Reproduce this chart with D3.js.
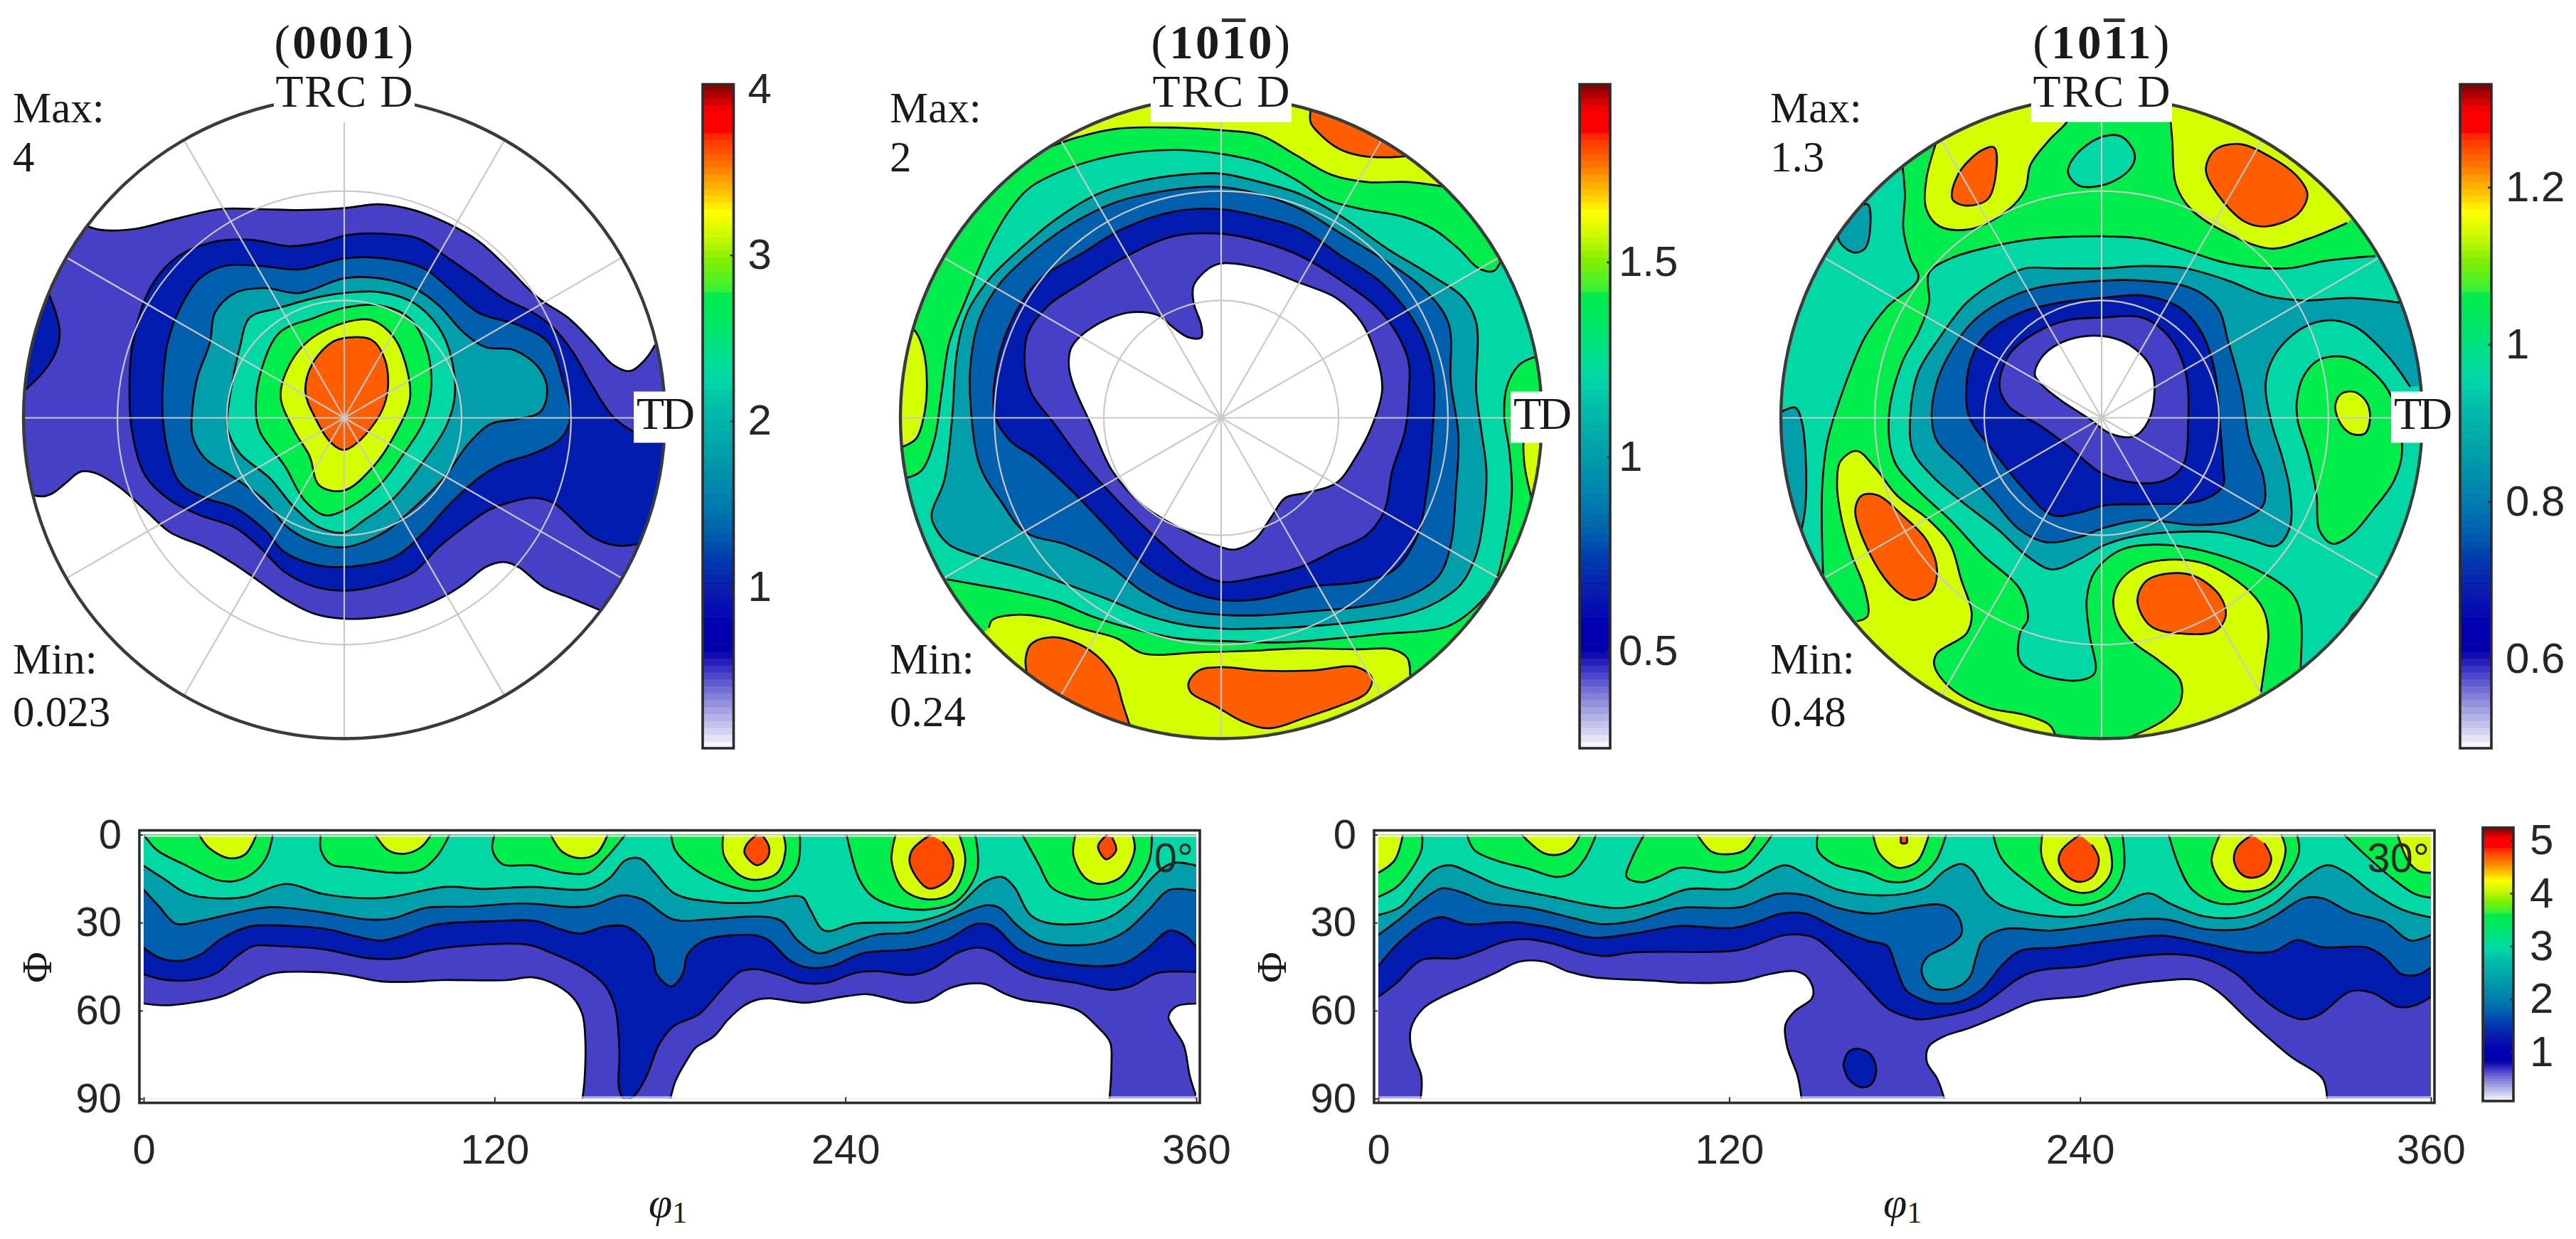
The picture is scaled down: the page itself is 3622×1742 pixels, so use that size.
<!DOCTYPE html>
<html>
<head>
<meta charset="utf-8">
<script src="https://cdn.jsdelivr.net/npm/d3@7"></script>
<style>
  body { margin: 0; background: #fff; }
  text { fill: #262626; }
  .serif { font-family: 'Liberation Serif', serif; fill: #1a1a1a; }
  .sans { font-family: 'Liberation Sans', sans-serif; }
</style>
</head>
<body>
<svg id="chart" width="3622" height="1742"></svg>
<script>
// band fill colours, lowest band is "below first contour"
const bandColors = ['#ffffff', '#4540c6', '#021cb0', '#0060ae', '#009fac', '#00d9a5', '#00ee4b', '#d4ff00', '#ff5e00'];
const odfOrange = '#ff4b00';

// colorbar ramp, position 0 = bottom, 1 = top
const rampStops = [0, 0.006, 0.027, 0.059, 0.088, 0.117, 0.138, 0.149, 0.184, 0.243, 0.291, 0.327, 0.363, 0.434, 0.52, 0.559, 0.591, 0.645, 0.6913, 0.693, 0.698, 0.734, 0.77, 0.809, 0.8305, 0.852, 0.8805, 0.902, 0.9216, 0.932, 0.959, 0.98, 1];
const rampColors = ['#ffffff', '#f4f4fc', '#d0d0f0', '#a0a0e0', '#7570d5', '#4038c8', '#1510b0', '#0000aa', '#0000b0', '#0a1eae', '#0040ae', '#0060ae', '#0078ae', '#009aaa', '#00c0a8', '#00d8a8', '#00de90', '#00e860', '#00ee48', '#44f030', '#44f030', '#80f000', '#c8f800', '#ffff00', '#ffcf00', '#ffa800', '#ff7000', '#ff5000', '#ff2a00', '#ff0000', '#ff0000', '#c00000', '#800000'];

const poleNames = [
  [['(', 0], ['0001', 1], [')', 0]],
  [['(', 0], ['10', 1], ['1', 2], ['0', 1], [')', 0]],
  [['(', 0], ['10', 1], ['1', 2], ['1', 1], [')', 0]],
];
const maxLabels = ['4', '2', '1.3'];
const minLabels = ['0.023', '0.24', '0.48'];
const poleRange = [[0.026, 4.03], [0.25, 1.957], [0.486, 1.331]];
const poleTicks = [[1, 2, 3, 4], [0.5, 1, 1.5], [0.6, 0.8, 1, 1.2]];
const diskBase = [0, 5, 6];
// half width of the disk in the units the contours below were read in
const diskUnitsX = [645, 630, 600];
const diskUnitsY = 650;
const gridPolar = [30, 60];
const gridAzimuth = d3.range(0, 360, 30);

// contour lines of each pole figure, drawn in list order.
// loop = closed line, rim = open lines that end on the outer circle
const contours0001 = [
  { band: 1, rim: [
    [[-520,-390],[-490,-381],[-420,-383],[-340,-403],[-250,-423],[-170,-423],[-90,-421],[0,-425],[70,-433],[140,-421],[210,-393],[270,-358],[330,-303],[390,-243],[450,-203],[500,-153],[540,-108],[575,-95],[605,-118],[625,-148]],
    [[515,390],[460,367],[400,342],[350,302],[320,292],[285,302],[240,337],[200,362],[130,392],[60,405],[0,407],[-60,397],[-120,367],[-170,332],[-220,297],[-280,262],[-350,232],[-400,187],[-450,142],[-500,112],[-530,109],[-560,132],[-585,152],[-605,159],[-625,157]],
  ] },
  { band: 2, rim: [[[-595,-253],[-580,-213],[-572,-173],[-580,-133],[-605,-93],[-640,-58]]] },
  { band: 2, rim: [[[595,255],[550,259],[500,242],[460,207],[420,172],[380,162],[330,172],[290,187],[240,222],[190,262],[140,312],[80,337],[0,350],[-60,342],[-120,312],[-170,262],[-220,222],[-290,197],[-350,167],[-400,117],[-425,37],[-432,-53],[-425,-153],[-390,-263],[-340,-323],[-270,-355],[-190,-361],[-110,-348],[-50,-355],[10,-371],[80,-373],[150,-363],[210,-323],[260,-288],[320,-243],[380,-213],[420,-183],[460,-133],[500,-63],[540,-3],[580,27],[645,52]]] },
  { band: 3, loop: [[-365,-63],[-355,-153],[-325,-233],[-290,-283],[-240,-308],[-170,-308],[-90,-301],[0,-323],[80,-323],[160,-303],[210,-263],[270,-213],[350,-188],[410,-153],[440,-73],[455,-3],[435,42],[380,72],[320,92],[270,122],[210,177],[160,232],[100,282],[0,302],[-60,297],[-120,272],[-160,227],[-220,182],[-280,162],[-330,132],[-355,67],[-365,-3]] },
  { band: 4, loop: [[-305,-23],[-295,-83],[-270,-153],[-260,-213],[-220,-253],[-160,-263],[-90,-253],[0,-283],[70,-283],[140,-263],[190,-228],[240,-173],[285,-143],[340,-138],[390,-103],[408,-58],[395,-13],[350,2],[295,12],[250,52],[200,122],[140,182],[80,232],[0,262],[-60,252],[-120,217],[-160,167],[-220,122],[-280,82],[-305,37]] },
  { band: 5, loop: [[-235,-3],[-225,-73],[-210,-143],[-190,-203],[-130,-223],[-60,-243],[0,-253],[70,-255],[140,-233],[190,-183],[215,-123],[222,-43],[205,17],[160,87],[100,162],[40,207],[0,232],[-50,222],[-100,182],[-150,122],[-210,72],[-235,22]] },
  { band: 6, loop: [[-178,-23],[-165,-103],[-130,-173],[-60,-203],[0,-223],[70,-228],[130,-203],[165,-143],[175,-63],[160,7],[120,72],[70,137],[0,187],[-40,197],[-80,167],[-120,97],[-170,27]] },
  { band: 7, loop: [[-128,-43],[-110,-108],[-70,-158],[0,-193],[55,-198],[100,-163],[125,-103],[132,-38],[100,37],[60,97],[0,147],[-50,137],[-70,77],[-100,27]] },
  { band: 8, loop: [[-78,-53],[-65,-108],[-25,-153],[10,-163],[55,-158],[80,-123],[88,-63],[75,-13],[30,47],[0,65],[-25,52],[-60,-3]] },
];

const contours1010 = [
  { band: 6, rim: [[[551,-323],[536,-298],[506,-303],[466,-343],[416,-383],[356,-408],[276,-423],[206,-443],[146,-483],[76,-518],[0,-535],[-94,-543],[-204,-533],[-294,-508],[-374,-468],[-414,-423],[-454,-353],[-504,-233],[-534,-153],[-549,-53],[-564,47],[-589,107],[-619,122]]] },
  { band: 6, rim: [[[-539,327],[-484,337],[-404,352],[-324,372],[-254,402],[-174,427],[-84,447],[0,452],[116,455],[226,447],[326,437],[396,432],[446,422],[496,387],[536,337],[561,237],[571,147],[566,67],[556,-3],[561,-63],[586,-108],[621,-125]]] },
  { band: 7, rim: [[[441,-468],[366,-478],[286,-478],[216,-493],[146,-533],[76,-573],[0,-583],[-84,-588],[-204,-586],[-284,-568],[-339,-548]]] },
  { band: 7, rim: [[[-607,-181],[-599,-173],[-584,-133],[-578,-63],[-584,-3],[-599,42],[-627,59]]] },
  { band: 7, rim: [[[611,169],[596,97],[594,47],[601,7]]] },
  { band: 7, rim: [[[-456,425],[-449,409],[-404,399],[-344,405],[-274,427],[-204,447],[-154,477],[-44,475],[56,472],[156,467],[266,469],[336,469],[366,487],[371,522]]] },
  { band: 8, rim: [[[366,-531],[326,-528],[276,-531],[236,-543],[201,-568],[176,-598],[176,-625]]] },
  { band: 8, rim: [[[-382,517],[-384,487],[-374,459],[-339,445],[-294,452],[-244,482],[-209,527],[-194,577],[-179,625]]] },
  { band: 8, loop: [[-64,537],[-44,512],[0,505],[76,512],[176,512],[266,505],[296,527],[286,557],[236,582],[166,607],[96,629],[46,617],[-14,582],[-59,557]] },
  { band: 4, loop: [[-569,197],[-544,127],[-529,7],[-519,-133],[-499,-213],[-454,-283],[-394,-343],[-324,-403],[-244,-453],[-154,-481],[-74,-493],[0,-495],[76,-478],[156,-453],[236,-408],[326,-343],[406,-293],[476,-243],[501,-193],[501,-53],[511,27],[521,107],[516,197],[501,277],[471,337],[426,372],[366,397],[276,412],[176,422],[76,427],[0,427],[-84,417],[-154,397],[-224,367],[-304,337],[-384,307],[-474,282],[-534,257],[-559,227]] },
  { band: 3, loop: [[-492,-23],[-492,-113],[-474,-203],[-434,-273],[-374,-333],[-294,-393],[-204,-438],[-124,-458],[-44,-468],[0,-468],[76,-453],[156,-423],[236,-373],[316,-323],[396,-263],[446,-193],[451,-73],[466,37],[461,147],[451,257],[426,322],[366,362],[276,382],[176,392],[76,400],[0,399],[-84,387],[-154,352],[-224,297],[-304,257],[-384,232],[-434,167],[-474,97]] },
  { band: 2, loop: [[-444,-3],[-439,-113],[-404,-213],[-354,-283],[-274,-333],[-194,-383],[-94,-418],[0,-423],[76,-408],[156,-383],[236,-328],[316,-273],[386,-183],[416,-93],[414,47],[401,167],[386,237],[341,307],[276,332],[176,342],[76,367],[0,369],[-84,342],[-164,287],[-224,222],[-294,147],[-364,82],[-414,47]] },
  { band: 1, loop: [[-386,-113],[-379,-173],[-339,-228],[-274,-273],[-194,-323],[-94,-368],[0,-373],[76,-358],[156,-328],[236,-278],[316,-213],[366,-123],[369,-53],[361,27],[336,107],[321,187],[286,237],[226,267],[156,302],[76,322],[0,332],[-54,307],[-124,247],[-204,167],[-274,87],[-324,17],[-374,-53]] },
  { band: 0, loop: [[-299,-103],[-294,-143],[-254,-183],[-184,-213],[-124,-208],[-94,-183],[-64,-163],[-39,-163],[-39,-188],[-54,-233],[-54,-268],[-24,-303],[0,-313],[76,-303],[156,-273],[226,-243],[276,-193],[311,-103],[316,-53],[296,17],[266,77],[226,132],[166,152],[126,162],[101,197],[66,247],[26,267],[0,262],[-84,222],[-154,177],[-214,107],[-254,17],[-289,-63]] },
];

const contours1011 = [
  { band: 5, rim: [[[-373,-513],[-368,-453],[-371,-383],[-358,-323],[-343,-283],[-403,-223],[-443,-163],[-478,-73],[-513,47],[-523,147],[-521,317]]] },
  { band: 5, rim: [[[372,507],[372,397],[357,357],[307,317],[217,277],[117,257],[37,267],[-13,312],[-28,367],[-23,437],[-13,517],[-43,532],[-123,517],[-153,492],[-153,437],[-138,407],[-153,347],[-223,277],[-283,207],[-343,147],[-388,87],[-398,-3],[-373,-113],[-343,-173],[-323,-233],[-323,-293],[-283,-323],[-203,-348],[-123,-363],[0,-368],[77,-363],[147,-343],[237,-313],[347,-303],[417,-318],[512,-328]]] },
  { band: 7, rim: [[[-58,-628],[-63,-603],[-98,-563],[-133,-513],[-143,-463],[-173,-423],[-243,-383],[-303,-388],[-328,-423],[-328,-483],[-308,-563]]] },
  { band: 7, rim: [[[459,-395],[387,-363],[317,-343],[237,-373],[167,-423],[139,-473],[132,-563],[127,-628]]] },
  { band: 6, loop: [[365,-33],[377,-83],[407,-118],[457,-123],[507,-93],[542,-43],[562,67],[547,127],[507,187],[467,237],[432,255],[407,227],[402,157],[387,77],[367,7]] },
  { band: 7, loop: [[437,-23],[447,-48],[472,-53],[495,-33],[502,2],[492,32],[467,32],[447,12]] },
  { band: 4, rim: [[[577,-63],[537,-123],[477,-183],[427,-198],[377,-183],[327,-133],[307,-73],[317,7],[337,77],[352,147],[352,222],[327,259],[277,247],[217,232],[77,237],[7,257],[-43,287],[-93,307],[-143,277],[-193,227],[-253,177],[-313,122],[-353,67],[-358,-3],[-343,-93],[-303,-163],[-253,-233],[-203,-273],[-143,-303],[-83,-303],[0,-303],[77,-308],[157,-303],[237,-278],[307,-248],[377,-238],[467,-243],[562,-233]]] },
  { band: 4, loop: [[-493,-373],[-468,-413],[-438,-433],[-433,-383],[-443,-343],[-463,-335],[-488,-353]] },
  { band: 4, rim: [[[-598,-13],[-573,-21],[-561,7],[-553,97],[-555,187],[-568,257]]] },
  { band: 4, rim: [[[455,437],[467,402],[492,379]]] },
  { band: 5, loop: [[-63,-498],[-48,-533],[-3,-568],[37,-570],[62,-533],[52,-503],[7,-473],[-43,-471]] },
  { band: 8, loop: [[-280,-458],[-263,-503],[-223,-543],[-201,-548],[-198,-493],[-213,-443],[-253,-430],[-278,-441]] },
  { band: 8, loop: [[195,-503],[212,-543],[257,-555],[317,-528],[367,-488],[385,-453],[367,-413],[307,-388],[267,-398],[217,-453]] },
  { band: 7, rim: [[[-458,412],[-438,402],[-443,347],[-468,277],[-488,197],[-495,132],[-488,87],[-458,67],[-423,102],[-383,157],[-323,207],[-283,257],[-263,327],[-243,397],[-253,437],[-308,477],[-313,502],[-283,547],[-213,587],[-143,602],[-98,622],[-85,647]]] },
  { band: 8, loop: [[-461,187],[-448,157],[-418,157],[-373,197],[-328,247],[-308,307],[-318,352],[-353,369],[-383,352],[-428,287]] },
  { band: 7, rim: [[[52,647],[117,612],[147,577],[147,532],[107,492],[62,457],[32,417],[22,367],[37,327],[77,297],[137,287],[197,297],[267,342],[302,387],[312,437],[307,487],[297,562]]] },
  { band: 8, loop: [[67,372],[82,332],[127,315],[177,322],[222,362],[232,402],[212,432],[147,437],[92,422]] },
  { band: 3, loop: [[-318,-3],[-308,-73],[-283,-133],[-243,-193],[-193,-233],[-123,-263],[0,-278],[77,-278],[167,-263],[217,-223],[237,-153],[262,-53],[277,47],[302,117],[302,177],[257,207],[177,217],[77,207],[7,222],[-43,242],[-103,252],[-153,227],[-203,167],[-263,97],[-308,47]] },
  { band: 2, loop: [[-253,-63],[-243,-123],[-213,-173],[-153,-213],[-83,-233],[0,-243],[77,-248],[147,-223],[187,-173],[212,-93],[220,-3],[227,97],[227,137],[187,167],[77,175],[7,177],[-43,192],[-93,197],[-143,147],[-203,67],[-248,-3]] },
  { band: 1, loop: [[-191,-63],[-173,-128],[-123,-173],[-63,-198],[0,-203],[77,-203],[127,-163],[157,-93],[162,7],[152,97],[117,127],[67,132],[0,112],[-63,57],[-113,17],[-173,-23]] },
  { band: 0, loop: [[-125,-88],[-108,-128],[-63,-158],[0,-166],[52,-148],[92,-103],[99,-53],[87,7],[62,37],[17,32],[-23,2],[-73,-33],[-108,-63]] },
];

// ODF sections, points are [phi1, Phi] in degrees.
// over = extra points that close a region outside the plot, not part of the line
const overTop = [[363, -3], [-3, -3]];
const odfRange = [0.075, 5.24];
const odfTicks = [1, 2, 3, 4, 5];
const phi1Ticks = [0, 120, 240, 360];
const phiTicks = [0, 30, 60, 90];
const sectionLabels = ['0°', '30°'];

const section0 = [
  { band: 0, line: [[0,57.6],[6.7,58.2],[16.5,57.3],[26.3,55.3],[34.7,51.5],[41.7,48.1],[45.9,47],[62.7,47],[71,48.1],[80.8,50],[90.6,50.2],[101.8,49.6],[124.2,49.6],[132.6,48.6],[139.6,50.5],[146.6,55.3],[150,61.1],[151,68.8],[150.8,83.3],[150,90.5]], over: [[-3,90.5],[-3,57.6]] },
  { band: 0, line: [[180.1,90.5],[181.8,84.2],[186,76.5],[188.7,72.7],[195,68.8],[199.9,63],[205.5,58.2],[209.7,56.3],[213.9,55.8],[226.5,57.3],[237.6,55.5],[247.4,54.4],[254.4,55.8],[261.4,57.3],[268.4,56.5],[275.4,52.5],[282.3,50.8],[287.9,51],[294.9,54.4],[300.5,56.3],[313.1,58],[320.1,60.2],[325.7,65],[330.5,70.7],[331,78.4],[330.3,90.5]] },
  { band: 0, line: [[359.9,89],[357.8,82.3],[355.7,71.7],[352.2,65.9],[350.5,62.1],[352.9,58.7],[360.2,57.6]], over: [[363,57.6],[363,93],[359.9,93]] },
  { band: 2, line: [[0,47.6],[6.7,49.4],[16.5,49.6],[24.9,47.2],[31.9,41.4],[37.5,38],[45.9,38],[61.3,39],[76.6,42.1],[87.8,42.1],[97.6,39.5],[108.8,38],[131.2,37.5],[139.6,40.4],[150.8,45.7],[157.8,51.5],[161.3,59.2],[162.7,73.6],[162.7,87.1],[164.8,90.5],[167.8,89],[172,82.3],[176.2,71.7],[181.1,65.4],[190.1,61.1],[197.1,53.4],[204.1,46.7],[209.7,45.9],[218.1,48.1],[225.1,50.5],[233.5,50.5],[243.2,47.2],[250.2,46.5],[262.8,47.8],[269.8,45.7],[278.2,40.4],[285.1,38.5],[290.7,39.9],[297.7,44.8],[304.7,48.1],[318.7,50.5],[331.2,52.9],[338.2,51.5],[346.6,47.2],[360.2,46.9]], over: overTop },
  { band: 3, line: [[0,38.5],[5.3,41.9],[12.3,43],[19.3,40.9],[26.3,35.6],[36.1,31.3],[50.1,31.1],[62.7,32.2],[72.4,34.6],[80.8,36.1],[87.8,34.6],[99,30.8],[118.6,29.5],[134,29.4],[142.4,32.2],[149.4,33.7],[157.8,31.3],[165,31.3],[171.3,36.1],[174.1,40.9],[175.5,47.6],[180.4,51.7],[184.3,47.6],[186,40.9],[191.5,36.1],[199.9,34.4],[209.7,34.4],[213.9,36.1],[220.9,42.8],[226.5,45.2],[234.9,44.9],[246,40.4],[262.8,39],[274,36.1],[285.1,30.3],[290.7,31.3],[299.1,39],[307.5,42.4],[325.7,44.8],[335.4,43.8],[342.4,39.5],[350.8,32.7],[356.4,34.6],[360.2,38.5]], over: overTop },
  { band: 4, line: [[0,18.8],[5.3,24.5],[10.9,30.3],[19.3,29.4],[29.1,27.2],[43.1,24.7],[59.9,26.3],[76.6,28.9],[85,28.6],[96.2,25],[111.6,24.5],[129.8,23.4],[146.6,24.7],[153.6,24.1],[163.4,20.7],[170.6,22.1],[181.1,28.9],[192.9,28.9],[211.1,27.9],[218.1,29.4],[223.7,36.1],[230.7,40.4],[239,38],[250.2,34.2],[262.8,33.2],[274,29.4],[288,24.1],[292.8,25],[299.1,31.3],[307.5,36.6],[325.7,37.1],[335.4,33.2],[343.8,25.5],[350.8,18.8],[360.2,19.2]], over: overTop },
  { band: 5, line: [[0,10.6],[6.7,14.9],[15.1,20.2],[25,21.7],[34.7,21.2],[48.7,16.8],[61.3,20.2],[76.6,21.7],[85,21.2],[103.2,17.8],[115.8,18.5],[132.6,17.8],[152.2,18.5],[159.2,14.9],[164.8,8.7],[169.9,8.2],[174.8,13],[181.8,20.2],[197.1,23.1],[209.7,23.1],[225.1,21.2],[227.9,25.5],[232.8,32.7],[243.2,30.3],[265.6,29.4],[276.8,25.5],[287.9,15.9],[293.5,14.4],[297.7,17.8],[303.3,27.4],[310.3,30.3],[328.4,28.9],[336.8,23.6],[346.6,13],[352.2,9.6],[360.2,10.6]], over: overTop },
  { band: 6, line: [[0,0],[4.6,5.3],[13.7,10.1],[24.9,15.4],[30.5,15.9],[36.1,14],[41.7,8.2],[44.2,0]] },
  { band: 6, line: [[60.6,0],[60.6,5.3],[64.1,10.1],[71,11.1],[86.4,13],[94.8,12],[100.4,7.2],[104.6,0]] },
  { band: 6, line: [[120,0],[119.3,5.3],[122.8,10.1],[132.6,10.4],[143.8,13],[152.2,13],[157.8,8.2],[164.8,0]] },
  { band: 6, line: [[180.4,0],[181.8,5.3],[188.7,12],[201.3,17.8],[209.7,19.2],[218.1,16.8],[223.7,10.1],[224.4,0]] },
  { band: 6, line: [[240.4,0],[244.6,14.9],[248.8,20.7],[257.2,24.5],[268.4,25.5],[278.2,22.6],[285.1,12],[284.4,0]] },
  { band: 6, line: [[300.5,0],[306.1,10.1],[310.3,17.8],[315.9,20.7],[325.7,22.1],[336.8,18.8],[343.8,9.1],[344.8,0]] },
  { band: 7, line: [[19,0],[22.1,4.3],[29.1,8],[34.7,6.7],[38.6,0]] },
  { band: 7, line: [[79.2,0],[83.6,5.3],[89.2,6.5],[94.8,4.3],[98.3,0]] },
  { band: 7, line: [[139.2,0],[143.1,5.8],[149.4,8],[155,6.3],[158.7,0]] },
  { band: 7, line: [[198.2,0],[198.5,7.2],[204.1,14],[209.7,15.4],[216.7,13],[219.5,5.3],[218.8,0]] },
  { band: 7, line: [[257.2,0],[255.8,9.1],[260,18.8],[268.4,22.1],[276.8,19.7],[281,9.1],[278.9,0]] },
  { band: 7, line: [[318.7,0],[318,7.2],[322.2,14.9],[327.7,16.8],[334.7,14],[338.9,5.3],[338.2,0]] },
  { band: 8, line: [[209.7,0],[206.2,3.4],[205.5,6.3],[209.7,10.4],[213.2,8.2],[213.9,4.3],[211.8,0.5]] },
  { band: 8, line: [[269.1,0],[262.8,5.3],[262.1,10.1],[268.4,18.3],[275.4,14.9],[276.8,8.2],[273.3,2.4]] },
  { band: 8, line: [[329.6,0],[326.4,3.9],[329.2,8.4],[332.6,5.3],[331.2,1]] },
];

const section30 = [
  { band: 0, line: [[14.4,90.5],[14.7,82.3],[11.2,72.7],[11.2,65.9],[15.4,59.2],[21.7,55.3],[31.5,51],[39.9,47.2],[48.3,43.3],[56.6,43.3],[65,46.7],[73.4,48.6],[94.4,49.8],[104.2,50.5],[123.8,50],[133.6,47.6],[142,46.5],[146.2,48.1],[148.7,52.5],[148.3,55.8],[142,60.6],[139.2,65],[139.9,72.7],[143.4,82.3],[144.8,90.5]] },
  { band: 0, line: [[193.7,90.5],[191.2,83.3],[187.6,77.5],[188.3,72.2],[193.4,68.8],[202.2,65.9],[213.9,61.1],[224.2,56.8],[241.8,54.9],[255,51.5],[268.1,49.8],[279.8,49.6],[287.1,53.4],[297.4,63],[312,75.6],[323,83.3],[324.5,90.5]] },
  { band: 2, line: [[159,78.4],[160.8,74.1],[164.3,73],[168.5,75.1],[170.3,80.4],[168.5,85.2],[165,86.1],[160.8,83.3],[159,78.4]] },
  { band: 2, line: [[0,55.3],[6.3,50.5],[14.7,42.8],[27.3,42.1],[34.3,39.9],[42.7,36.6],[51,35.6],[59.4,37.1],[70.6,40.4],[77.6,41.4],[87.4,40.1],[122.4,39.5],[129.4,37.5],[139.2,34.2],[149,35.1],[157.3,41.9],[165.7,50.5],[174.1,59.2],[180.8,62.1],[184.7,63],[194.9,61.6],[205.2,58.7],[222.7,47.2],[241.8,44.8],[253.5,42.3],[271,40.7],[281.3,41.9],[293,47.2],[301.8,55.3],[309.1,60.6],[316.4,63],[322.2,61.1],[332.5,53.4],[339.9,53.9],[348.6,58.7],[354.5,58.2],[360,55.3]], over: overTop },
  { band: 3, line: [[0,44.8],[6.3,37.5],[16.1,29.8],[21.7,28.1],[30.1,30.5],[45.5,29.8],[59.4,31.8],[73.4,35.1],[87.4,33.7],[102.8,31.1],[121,31.8],[129.4,29.8],[137.8,26.9],[146.2,26.9],[157.3,32.2],[167.1,36.1],[174.1,38],[176.9,44.8],[180.5,53],[186.1,56.3],[192,57.6],[199.3,56.8],[206.6,52.5],[213.9,43.8],[219.8,39.5],[231.5,38.5],[250.5,36.1],[268.1,34.4],[282.8,37.1],[295.9,39.8],[306.2,39.8],[314.2,35.9],[322.3,38.3],[338.4,38.5],[344.2,41.9],[350.1,47.6],[356,47.6],[360,45.2]], over: overTop },
  { band: 4, line: [[0,34.2],[7.7,28.4],[14.7,22.6],[21.7,18.3],[28.7,19.7],[37.1,23.1],[52.4,25],[66.4,28.4],[76.2,30.5],[87.4,29.4],[102.8,25],[123.8,24.7],[136.4,20.2],[146.2,20.7],[157.3,25],[169.9,26.9],[180.5,25],[193.4,24.1],[198.6,28.4],[199.3,34.2],[194.9,38],[187.6,41.9],[185.8,46.7],[189,52],[196.4,52.5],[202.2,48.6],[204.4,41.9],[206.6,36.1],[213.9,32.2],[230,32.7],[244.7,30.8],[257.9,28.9],[269.6,28.9],[282.8,32.2],[297.4,31.8],[306.2,27.9],[316.4,21.7],[323,21.7],[332.5,26.5],[344.2,29.8],[353,36.1],[360,34.2]], over: overTop },
  { band: 5, line: [[0,27.4],[7.7,24.5],[13.3,17.8],[18.9,12],[24.5,10.4],[31.5,13],[41.3,17.3],[59.4,21.2],[73.4,24.1],[83.2,25],[94.4,22.6],[105.6,18.6],[122.4,18.3],[130.8,14],[139.2,10.4],[146.2,13.5],[157.3,18.8],[171.3,20.7],[180.5,20],[187.6,17.8],[193.4,12.5],[199.3,9.9],[203,12],[208.1,20.2],[213.9,24.5],[231.5,27.9],[241.8,27.4],[253.5,23.6],[263.7,20],[271,23.6],[282.8,27.9],[295.9,27.9],[306.2,23.6],[316.4,14.9],[324.5,10.4],[331.1,13],[339.9,19.7],[350.1,25.5],[360,28.2]], over: overTop },
  { band: 6, line: [[0,21.2],[6.3,17.8],[11.2,12],[14.7,5.3],[15,0]], over: [[15,-3],[-3,-3],[-3,21.2]] },
  { band: 6, line: [[30.3,0],[32.9,5.3],[41.3,9.1],[51,11.5],[60.8,14.4],[66.4,13],[70.6,8.2],[74.5,0]] },
  { band: 6, line: [[90.9,0],[86.7,8.2],[84.9,14.4],[90.2,16.2],[95.8,14.4],[102.8,11.3],[118.2,12.8],[125.2,11.1],[130.8,5.3],[134.7,0]] },
  { band: 6, line: [[150.3,0],[150.3,5.3],[155.9,10.1],[167.1,13],[174.1,15.9],[180.8,15.9],[184.7,14.4],[190.5,9.1],[194.2,0]] },
  { band: 6, line: [[210.3,0],[213.2,8.2],[222.7,16.8],[233,23.1],[241.8,23.8],[250.5,20.2],[254.9,12],[254.5,0]] },
  { band: 6, line: [[270.3,0],[274,11.1],[278.4,18.8],[287.2,23.4],[298.9,22.2],[309.2,15.9],[314.8,6.3],[314.2,0]] },
  { band: 6, line: [[330.3,0],[336.9,6.3],[345.7,14],[354.5,20.2],[360,21.5]], over: [[363,21.5],[363,-3],[330.3,-3]] },
  { band: 7, line: [[0,13],[5.6,8.7],[8.4,0]], over: [[8.4,-3],[-3,-3],[-3,13]] },
  { band: 7, line: [[49,0],[56.6,6.3],[62.2,6.7],[66.4,4.3],[69,0]] },
  { band: 7, line: [[109.1,0],[114,5.8],[119.6,6.7],[125.2,5.3],[129.1,0]] },
  { band: 7, line: [[169.2,0],[171.3,6.3],[176.9,11.1],[180.3,11.1],[184.7,8.7],[188.3,0]] },
  { band: 7, line: [[227.1,0],[226.8,7.2],[230,14],[237.4,19.2],[244.7,19.2],[250.5,13],[250.2,4.3],[248.3,0]] },
  { band: 7, line: [[287.9,0],[285,9.1],[290.1,17.8],[298.9,19.2],[306.2,15.9],[310.3,5.3],[308.8,0]] },
  { band: 7, line: [[348.6,0],[352.3,9.1],[356,12.5],[360,13]], over: [[363,13],[363,-3],[348.6,-3]] },
  { band: 8, line: [[240,0],[233.7,5.3],[232.7,9.1],[235.9,14.4],[240.3,16.1],[244.7,13.9],[246.4,8.2],[244,3.4]] },
  { band: 8, line: [[298.9,0],[293.7,4.3],[292.7,9.1],[295.2,13.5],[298.9,14.7],[303.3,13],[305.4,8.2],[303,2.9]] },
  { band: 8, line: [[178.8,0.5],[178.8,2.8],[180.7,2.8],[180.7,0.5]] },
];

const svg = d3.select('#chart');
const ramp = d3.scaleLinear().domain(rampStops).range(rampColors);
const lineWidth = 2.7;

function drawPole(i, contours, cx) {
  const cy = 587.5;
  const r = 451;
  const x = d3.scaleLinear().domain([-diskUnitsX[i], diskUnitsX[i]]).range([cx - r, cx + r]);
  const y = d3.scaleLinear().domain([-diskUnitsY, diskUnitsY]).range([cy - r, cy + r]);
  const g = svg.append('g').attr('class', 'pole');

  g.append('clipPath')
    .attr('id', `disk${i}`)
    .append('circle')
    .attr('cx', cx)
    .attr('cy', cy)
    .attr('r', r);

  const inner = g.append('g').attr('clip-path', `url(#disk${i})`);
  inner.append('circle')
    .attr('cx', cx)
    .attr('cy', cy)
    .attr('r', r)
    .attr('fill', bandColors[diskBase[i]]);

  const open = d3.line().x(d => x(d[0])).y(d => y(d[1])).curve(d3.curveCatmullRom.alpha(0.5));
  const closed = d3.line().x(d => x(d[0])).y(d => y(d[1])).curve(d3.curveCatmullRomClosed.alpha(0.5));

  // walks clockwise outside the rim from the end of one line to the start of the next
  function rimWalk(from, to) {
    const a0 = Math.atan2(y(from[1]) - cy, x(from[0]) - cx);
    let a1 = Math.atan2(y(to[1]) - cy, x(to[0]) - cx);
    if (a1 < a0) a1 += 2 * Math.PI;
    return d3.range(0, 25).map(k => {
      const a = a0 + ((a1 - a0) * k) / 24;
      return `L${cx + 1.2 * r * Math.cos(a)},${cy + 1.2 * r * Math.sin(a)}`;
    }).join('');
  }

  contours.forEach(c => {
    if (c.loop) {
      inner.append('path')
        .attr('d', closed(c.loop))
        .attr('fill', bandColors[c.band])
        .attr('stroke', '#000')
        .attr('stroke-width', lineWidth);
      return;
    }
    const fillPath = c.rim.map((part, k) => {
      const next = c.rim[(k + 1) % c.rim.length];
      return open(part) + rimWalk(part[part.length - 1], next[0]);
    }).join('').replace(/(.)M/g, '$1L') + 'Z';
    inner.append('path').attr('d', fillPath).attr('fill', bandColors[c.band]);
    c.rim.forEach(part => {
      inner.append('path')
        .attr('d', open(part))
        .attr('fill', 'none')
        .attr('stroke', '#000')
        .attr('stroke-width', lineWidth);
    });
  });

  // polar grid
  const gridR = d3.scaleLinear().domain([0, 1]).range([0, r]);
  gridPolar.forEach(p => {
    inner.append('circle')
      .attr('cx', cx)
      .attr('cy', cy)
      .attr('r', gridR(Math.SQRT2 * Math.sin((p / 2) * Math.PI / 180)))
      .attr('fill', 'none')
      .attr('stroke', '#c9c9c9')
      .attr('stroke-width', 2.2);
  });
  inner.selectAll('line.spoke')
    .data(gridAzimuth)
    .enter()
    .append('line')
    .attr('class', 'spoke')
    .attr('x1', cx)
    .attr('y1', cy)
    .attr('x2', d => cx + r * Math.cos(d * Math.PI / 180))
    .attr('y2', d => cy + r * Math.sin(d * Math.PI / 180))
    .attr('stroke', '#c9c9c9')
    .attr('stroke-width', 2.2);

  g.append('circle')
    .attr('cx', cx)
    .attr('cy', cy)
    .attr('r', r)
    .attr('fill', 'none')
    .attr('stroke', '#3a3a3a')
    .attr('stroke-width', 4.4);

  // white label boxes sit over the rim
  g.append('rect').attr('x', cx - 99).attr('y', cy - 482).attr('width', 198).attr('height', 66).attr('fill', '#fff');
  g.append('rect').attr('x', cx + 407).attr('y', cy - 37).attr('width', 88).attr('height', 72).attr('fill', '#fff');

  const serif = (tx, ty, s, size) => g.append('text').attr('class', 'serif').attr('x', tx).attr('y', ty).attr('font-size', size).text(s);
  serif(cx, 150, 'TRC D', 64).attr('text-anchor', 'middle').attr('textLength', 193);
  serif(cx + 411, 603, 'TD', 64).attr('textLength', 82);
  serif(cx - 466, 172, 'Max:', 61);
  serif(cx - 466, 241, maxLabels[i], 61);
  serif(cx - 466, 947, 'Min:', 61);
  serif(cx - 466, 1021, minLabels[i], 61);

  const title = g.append('text')
    .attr('class', 'serif')
    .attr('x', cx + 1)
    .attr('y', 82)
    .attr('text-anchor', 'middle')
    .attr('font-size', 67)
    .attr('letter-spacing', 3.4);
  poleNames[i].forEach(([s, kind]) => {
    title.append('tspan')
      .attr('font-weight', kind ? 'bold' : 'normal')
      .text(s);
  });

  // bar over the negative Miller index
  let charAt = 0;
  poleNames[i].forEach(([s, kind]) => {
    if (kind === 2) {
      const box = title.node().getExtentOfChar(charAt);
      g.append('line')
        .attr('x1', box.x)
        .attr('x2', box.x + box.width - 3.4)
        .attr('y1', 28.5)
        .attr('y2', 28.5)
        .attr('stroke', '#333')
        .attr('stroke-width', 5);
    }
    charAt += s.length;
  });
}

function drawColorbar(x0, x1, y0, y1, domain, ticks, padding) {
  const g = svg.append('g').attr('class', 'colorbar');
  const v = d3.scaleLinear().domain(domain).range([y1, y0]);
  const steps = d3.range(0, 96);
  const pos = d3.scaleLinear().domain([0, 96]).range([0, 1]);
  g.selectAll('rect.step')
    .data(steps)
    .enter()
    .append('rect')
    .attr('class', 'step')
    .attr('x', x0)
    .attr('width', x1 - x0)
    .attr('y', d => y1 - (y1 - y0) * pos(d + 1))
    .attr('height', (y1 - y0) / 96 + 0.6)
    .attr('fill', d => ramp(pos(d + 0.5)));
  g.append('rect')
    .attr('x', x0)
    .attr('y', y0)
    .attr('width', x1 - x0)
    .attr('height', y1 - y0)
    .attr('fill', 'none')
    .attr('stroke', '#2b2b2b')
    .attr('stroke-width', 3.6);
  const axis = g.append('g')
    .attr('class', 'sans')
    .attr('transform', `translate(${x1},0)`)
    .call(d3.axisRight(v).tickValues(ticks).tickSize(-5).tickPadding(padding).tickFormat(String));
  axis.select('.domain').remove();
  axis.selectAll('text').attr('font-size', 60).style('font-family', 'Liberation Sans');
  axis.selectAll('line').attr('stroke', '#2b2b2b').attr('stroke-width', 2.5);
}

function drawSection(contours, left, label, labelRight) {
  const x = d3.scaleLinear().domain([0, 360]).range([left, left + 1480]);
  const y = d3.scaleLinear().domain([0, 90]).range([1173.5, 1544.6]);
  const id = `plot${left}`;
  const g = svg.append('g').attr('class', 'section');

  g.append('clipPath')
    .attr('id', id)
    .append('rect')
    .attr('x', x(0))
    .attr('y', y(0))
    .attr('width', x(360) - x(0))
    .attr('height', y(90) - y(0));
  const inner = g.append('g').attr('clip-path', `url(#${id})`);
  inner.append('rect')
    .attr('x', x(0))
    .attr('y', y(0))
    .attr('width', x(360) - x(0))
    .attr('height', y(90) - y(0))
    .attr('fill', bandColors[1]);

  const line = d3.line().x(d => x(d[0])).y(d => y(d[1])).curve(d3.curveCatmullRom.alpha(0.5));
  const raw = d3.line().x(d => x(d[0])).y(d => y(d[1]));
  contours.forEach(c => {
    const tail = c.over ? raw(c.over).replace('M', 'L') : '';
    inner.append('path')
      .attr('d', line(c.line) + tail + 'Z')
      .attr('fill', c.band === 8 ? odfOrange : bandColors[c.band]);
    inner.append('path')
      .attr('d', line(c.line))
      .attr('fill', 'none')
      .attr('stroke', '#000')
      .attr('stroke-width', lineWidth);
  });

  // first and last grid rows come out paler
  inner.selectAll('rect.edge')
    .data([[0, 0.8], [89.2, 90]])
    .enter()
    .append('rect')
    .attr('class', 'edge')
    .attr('x', x(0))
    .attr('width', x(360) - x(0))
    .attr('y', d => y(d[0]))
    .attr('height', d => y(d[1]) - y(d[0]))
    .attr('fill', '#fff')
    .attr('opacity', 0.6);

  const frameTop = y(0) - 6;
  const frameBottom = y(90) + 6;
  const frameLeft = x(0) - 6;
  const frameRight = x(360) + 5;
  g.append('rect')
    .attr('x', frameLeft)
    .attr('y', frameTop)
    .attr('width', frameRight - frameLeft)
    .attr('height', frameBottom - frameTop)
    .attr('fill', 'none')
    .attr('stroke', '#2b2b2b')
    .attr('stroke-width', 3.6);

  const left_ = g.append('g')
    .attr('transform', `translate(${frameLeft},0)`)
    .call(d3.axisLeft(y).tickValues(phiTicks).tickSize(-5).tickPadding(25));
  const bottom = g.append('g')
    .attr('transform', `translate(0,${frameBottom})`)
    .call(d3.axisBottom(x).tickValues(phi1Ticks).tickSize(-8).tickPadding(44));
  [left_, bottom].forEach(a => {
    a.select('.domain').remove();
    a.selectAll('text').attr('font-size', 58).style('font-family', 'Liberation Sans');
    a.selectAll('line').attr('stroke', '#2b2b2b').attr('stroke-width', 2);
  });

  g.append('text')
    .attr('class', 'serif')
    .attr('font-size', 60)
    .attr('text-anchor', 'middle')
    .attr('transform', `translate(${left - 130},1360) rotate(-90)`)
    .text('Φ');

  const xl = g.append('text')
    .attr('class', 'serif')
    .attr('x', left + 710)
    .attr('y', 1711)
    .attr('font-size', 60)
    .attr('font-style', 'italic')
    .text('φ');
  xl.append('tspan').attr('font-size', 42).attr('font-style', 'normal').attr('dy', 8).text('1');

  g.append('text')
    .attr('class', 'sans')
    .attr('x', labelRight)
    .attr('y', 1226)
    .attr('text-anchor', 'end')
    .attr('font-size', 58)
    .text(label);
}

drawPole(0, contours0001, 484);
drawPole(1, contours1010, 1717);
drawPole(2, contours1011, 2955);
drawColorbar(988, 1031.5, 118.5, 1052, poleRange[0], poleTicks[0], 20);
drawColorbar(2221, 2264, 118.5, 1052, poleRange[1], poleTicks[1], 12);
drawColorbar(3459, 3503, 118.5, 1052, poleRange[2], poleTicks[2], 20);
drawSection(section0, 202, sectionLabels[0], 1678);
drawSection(section30, 1938, sectionLabels[1], 3416);
drawColorbar(3491, 3534, 1163.6, 1548, odfRange, odfTicks, 23);
</script>
</body>
</html>
